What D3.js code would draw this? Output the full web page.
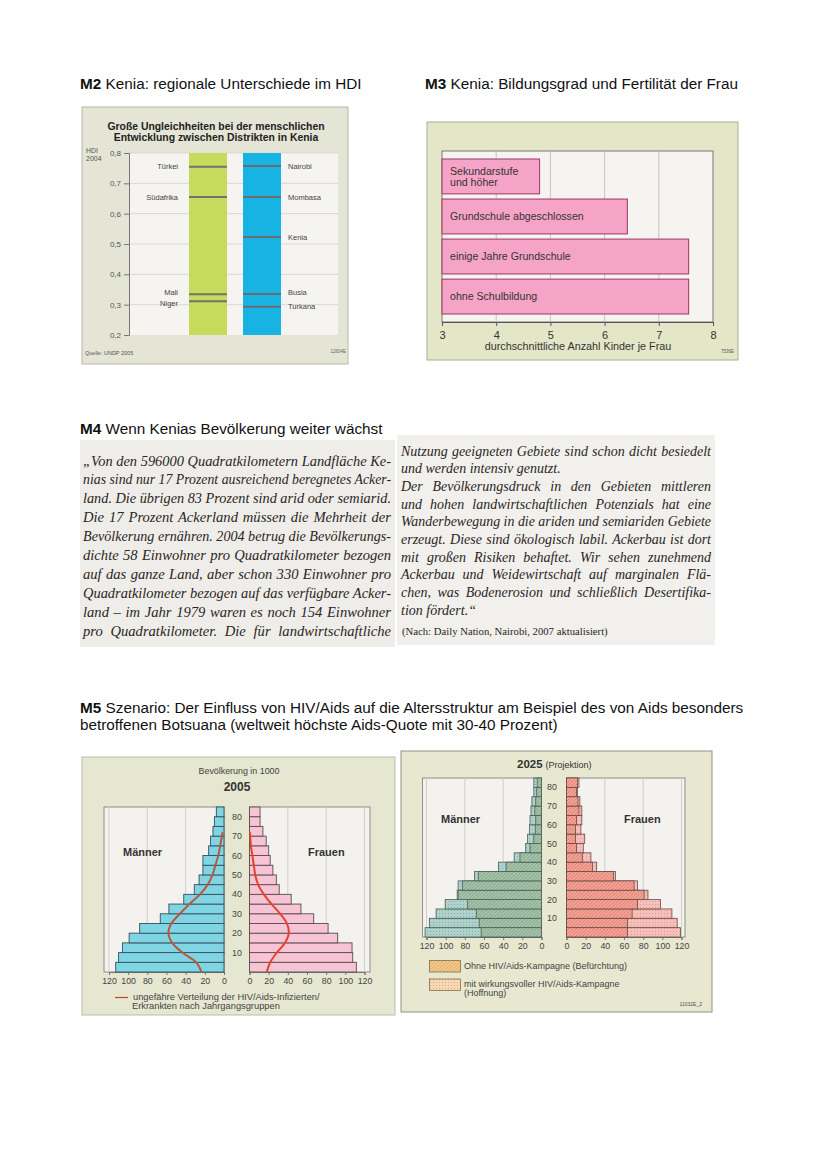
<!DOCTYPE html>
<html><head><meta charset="utf-8">
<script src="https://cdn.jsdelivr.net/npm/d3@7"></script>
<style>body{margin:0;background:#fff}svg{display:block}</style>
</head><body>
<svg id="c" width="828" height="1171"></svg>
<script>
// ---------------- DATA ----------------
// M2 – HDI 2004
const hdiTicks = [0.2, 0.3, 0.4, 0.5, 0.6, 0.7, 0.8];
const hdiCountryNames = ["Türkei", "Südafrika", "Mali", "Niger"];
const hdiCountryValues = [0.755, 0.655, 0.334, 0.311];
const hdiDistrictNames = ["Nairobi", "Mombasa", "Kenia", "Busia", "Turkana"];
const hdiDistrictValues = [0.757, 0.655, 0.523, 0.335, 0.293];

// M3 – education vs fertility
const eduCategories = [["Sekundarstufe", "und höher"], ["Grundschule abgeschlossen"], ["einige Jahre Grundschule"], ["ohne Schulbildung"]];
const eduValues = [4.8, 6.42, 7.55, 7.55];
const eduTicks = [3, 4, 5, 6, 7, 8];

// M4 – text lines (second item: 1 = justified)
const m4Left = [
  ["„Von den 596000 Quadratkilometern Landfläche Ke-", 1],
  ["nias sind nur 17 Prozent ausreichend beregnetes Acker-", 1],
  ["land. Die übrigen 83 Prozent sind arid oder semiarid.", 1],
  ["Die 17 Prozent Ackerland müssen die Mehrheit der", 1],
  ["Bevölkerung ernähren. 2004 betrug die Bevölkerungs-", 1],
  ["dichte 58 Einwohner pro Quadratkilometer bezogen", 1],
  ["auf das ganze Land, aber schon 330 Einwohner pro", 1],
  ["Quadratkilometer bezogen auf das verfügbare Acker-", 1],
  ["land – im Jahr 1979 waren es noch 154 Einwohner", 1],
  ["pro Quadratkilometer. Die für landwirtschaftliche", 1]
];
const m4Right = [
  ["Nutzung geeigneten Gebiete sind schon dicht besiedelt", 1],
  ["und werden intensiv genutzt.", 0],
  ["Der Bevölkerungsdruck in den Gebieten mittleren", 1],
  ["und hohen landwirtschaftlichen Potenzials hat eine", 1],
  ["Wanderbewegung in die ariden und semiariden Gebiete", 1],
  ["erzeugt. Diese sind ökologisch labil. Ackerbau ist dort", 1],
  ["mit großen Risiken behaftet. Wir sehen zunehmend", 1],
  ["Ackerbau und Weidewirtschaft auf marginalen Flä-", 1],
  ["chen, was Bodenerosion und schließlich Desertifika-", 1],
  ["tion fördert.“", 0]
];
const m4Source = "(Nach: Daily Nation, Nairobi, 2007 aktualisiert)";

// M5 – population pyramids (in 1000), age groups from 0–4 up to 80+
const ageGroups = ["0–4","5–9","10–14","15–19","20–24","25–29","30–34","35–39","40–44","45–49","50–54","55–59","60–64","65–69","70–74","75–79","80+"];
const ageTicks = [10, 20, 30, 40, 50, 60, 70, 80];
const popTicks = [0, 20, 40, 60, 80, 100, 120];
const men2005 = [113, 110, 106, 99, 88, 66.5, 57.5, 42, 31, 26, 22, 22, 16, 14, 11.5, 10, 8];
const women2005 = [111.5, 107.7, 107, 92, 82, 67, 53.7, 43.5, 31, 28, 24.4, 21.6, 20, 17.4, 14, 11, 11];
const hivAges = [0, 5, 10, 15, 20, 25, 30, 35, 40, 45, 50, 55, 60, 65, 72];
const hivMen = [23.5, 29, 43.5, 54, 58, 55, 46, 36, 25, 17, 12, 9, 6, 4, 1.5];
const hivWomen = [18, 21.6, 28.5, 37, 41, 39, 32, 23, 15, 9, 6, 4.5, 3, 1.5, 0.5];
// 2025 projection: without campaign (Befürchtung) and with campaign (Hoffnung)
const men2025Fear = [63, 65, 68, 77, 87, 82.5, 66, 37, 22.5, 12, 8, 6.5, 6, 7, 6, 5, 4.5];
const men2025Hope = [121.5, 117, 110, 100.5, 88, 87, 70, 45, 28.5, 16.5, 14.5, 12.5, 12, 11, 10, 8, 8];
const women2025Fear = [63.5, 63.5, 68.5, 74, 81, 70.5, 49, 27, 16.5, 10.5, 9.5, 9.5, 10.5, 13, 12, 10.5, 11.5];
const women2025Hope = [119, 115.5, 110, 98, 85, 74, 51, 31.5, 25.5, 17.5, 19, 15, 16, 16, 14, 11.5, 13];

// ---------------- DRAWING ----------------
const SANS = "'Liberation Sans', Arial, Helvetica, sans-serif";
const SERIF = "'Liberation Serif', 'Times New Roman', serif";
const svg = d3.select("#c").attr("font-family", SANS);
const defs = svg.append("defs");

function heading(x, y, bold, rest) {
  const t = svg.append("text").attr("x", x).attr("y", y).attr("font-size", 15.3).attr("fill", "#111");
  if (bold) t.append("tspan").attr("font-weight", "bold").text(bold);
  t.append("tspan").attr("dx", bold ? 4.3 : 0).text(rest);
}
heading(80, 88.5, "M2", "Kenia: regionale Unterschiede im HDI");
heading(425, 88.5, "M3", "Kenia: Bildungsgrad und Fertilität der Frau");
heading(80, 433.5, "M4", "Wenn Kenias Bevölkerung weiter wächst");
heading(80, 712.5, "M5", "Szenario: Der Einfluss von HIV/Aids auf die Altersstruktur am Beispiel des von Aids besonders");
heading(80, 729.5, null, "betroffenen Botsuana (weltweit höchste Aids-Quote mit 30-40 Prozent)");

// ===== M2 =====
{
  const g = svg.append("g");
  g.append("rect").attr("x", 82).attr("y", 107).attr("width", 266).attr("height", 257)
    .attr("fill", "#e4e5d5").attr("stroke", "#b8b8aa");
  ["Große Ungleichheiten bei der menschlichen", "Entwicklung zwischen Distrikten in Kenia"].forEach((s, i) =>
    g.append("text").attr("x", 216).attr("y", 129.5 + i * 11).attr("text-anchor", "middle")
      .attr("font-weight", "bold").attr("font-size", 10.4).attr("fill", "#222").text(s));
  const y = d3.scaleLinear().domain([0.2, 0.8]).range([335, 153]);
  const x0 = 129, x1 = 338;
  g.append("rect").attr("x", x0).attr("y", y(0.8)).attr("width", x1 - x0).attr("height", y(0.2) - y(0.8)).attr("fill", "#f5f4f0");
  g.selectAll(".grid").data(hdiTicks.slice(1)).join("line")
    .attr("x1", x0).attr("x2", x1).attr("y1", d => y(d)).attr("y2", d => y(d))
    .attr("stroke", "#d9d8d2").attr("stroke-width", 1);
  g.append("rect").attr("x", 189).attr("y", y(0.8)).attr("width", 38).attr("height", y(0.2) - y(0.8)).attr("fill", "#c6db5c");
  g.append("rect").attr("x", 243).attr("y", y(0.8)).attr("width", 38).attr("height", y(0.2) - y(0.8)).attr("fill", "#16b3e3");
  g.selectAll(".cl").data(hdiCountryValues).join("line")
    .attr("x1", 189).attr("x2", 227).attr("y1", d => y(d)).attr("y2", d => y(d)).attr("stroke", "#727272").attr("stroke-width", 2);
  g.selectAll(".dl").data(hdiDistrictValues).join("line")
    .attr("x1", 243).attr("x2", 281).attr("y1", d => y(d)).attr("y2", d => y(d)).attr("stroke", "#6c6c6c").attr("stroke-width", 2);
  g.selectAll(".ct").data(hdiCountryNames).join("text")
    .attr("x", 178).attr("y", (d, i) => y(hdiCountryValues[i]) + (d === "Mali" ? -1.5 : d === "Niger" ? 2.5 : 0)).attr("dy", "0.35em")
    .attr("text-anchor", "end").attr("font-size", 7.5).attr("fill", "#444").text(d => d);
  g.selectAll(".dt").data(hdiDistrictNames).join("text")
    .attr("x", 288).attr("y", (d, i) => y(hdiDistrictValues[i]) + (d === "Busia" ? -1.5 : 0)).attr("dy", "0.35em")
    .attr("font-size", 7.5).attr("fill", "#444").text(d => d);
  const ax = g.append("g").attr("transform", `translate(${x0},0)`)
    .call(d3.axisLeft(y).tickValues(hdiTicks).tickSize(5).tickPadding(3).tickFormat(d => d3.format(".1f")(d).replace(".", ",")));
  ax.select(".domain").attr("stroke", "#777");
  ax.selectAll(".tick line").attr("stroke", "#777");
  ax.selectAll("text").attr("font-size", 8).attr("fill", "#555").attr("font-family", SANS);
  g.append("text").attr("x", 86).attr("y", 152.5).attr("font-size", 7).attr("fill", "#555").text("HDI");
  g.append("text").attr("x", 86).attr("y", 160.5).attr("font-size", 7).attr("fill", "#555").text("2004");
  g.append("text").attr("x", 85).attr("y", 355).attr("font-size", 5.5).attr("fill", "#555").text("Quelle: UNDP 2005");
  g.append("text").attr("x", 346).attr("y", 353).attr("text-anchor", "end").attr("font-size", 4.5).attr("fill", "#666").text("12604E");
}

// ===== M3 =====
{
  const g = svg.append("g");
  g.append("rect").attr("x", 427).attr("y", 122).attr("width", 311).attr("height", 238)
    .attr("fill", "#e3e7c7").attr("stroke", "#a9ab9a");
  const x = d3.scaleLinear().domain([3, 8]).range([442, 713]);
  const y = d3.scaleBand().domain(d3.range(eduCategories.length)).range([151, 322]).paddingInner(0.13).paddingOuter(0.2);
  g.append("rect").attr("x", 442).attr("y", 151).attr("width", 271).attr("height", 171).attr("fill", "#f5f4f1").attr("stroke", "#777");
  g.selectAll(".vg").data(eduTicks.slice(1, -1)).join("line")
    .attr("x1", d => x(d)).attr("x2", d => x(d)).attr("y1", 151).attr("y2", 322).attr("stroke", "#c4c4c0");
  g.selectAll(".bar").data(eduValues).join("rect")
    .attr("x", x(3)).attr("y", (d, i) => y(i)).attr("width", d => x(d) - x(3)).attr("height", y.bandwidth())
    .attr("fill", "#f5a4c7").attr("stroke", "#a8406f").attr("stroke-width", 1.1);
  eduCategories.forEach((lines, i) => {
    const cy = y(i) + y.bandwidth() / 2;
    lines.forEach((s, k) => g.append("text").attr("x", 450)
      .attr("y", cy + (k - (lines.length - 1) / 2) * 11).attr("dy", "0.35em")
      .attr("font-size", 10.6).attr("fill", "#333").text(s));
  });
  const ax = g.append("g").attr("transform", "translate(0,322)")
    .call(d3.axisBottom(x).tickValues(eduTicks).tickSize(4).tickPadding(5).tickFormat(d3.format("d")));
  ax.select(".domain").attr("stroke", "#555");
  ax.selectAll(".tick line").attr("stroke", "#555");
  ax.selectAll("text").attr("font-size", 11).attr("fill", "#333").attr("font-family", SANS);
  g.append("text").attr("x", 578).attr("y", 349.5).attr("text-anchor", "middle").attr("font-size", 10.8).attr("fill", "#333")
    .text("durchschnittliche Anzahl Kinder je Frau");
  g.append("text").attr("x", 734).attr("y", 353).attr("text-anchor", "end").attr("font-size", 4.5).attr("fill", "#555").text("7536E");
}

// ===== M4 =====
function justified(g, lines, xa, xb, y0, dy, size) {
  const avail = xb - xa;
  lines.forEach(([s, j], i) => {
    const t = g.append("text").attr("x", xa).attr("y", y0 + i * dy)
      .attr("font-family", SERIF).attr("font-style", "italic").attr("font-size", size).attr("fill", "#2a2622").text(s);
    if (j) {
      const w = t.node().getComputedTextLength();
      const n = (s.match(/ /g) || []).length;
      const extra = n > 0 ? (avail - w) / n : 0;
      if (extra >= 0) {
        t.style("word-spacing", extra + "px");
      } else {
        t.attr("textLength", avail).attr("lengthAdjust", "spacingAndGlyphs");
      }
    }
  });
}
{
  const g = svg.append("g");
  g.append("rect").attr("x", 80).attr("y", 440).attr("width", 315).attr("height", 207).attr("fill", "#efedea");
  g.append("rect").attr("x", 397).attr("y", 435).attr("width", 318).attr("height", 210).attr("fill", "#f1f0ed");
  justified(g, m4Left, 83, 391, 465.5, 18.9, 14.6);
  justified(g, m4Right, 401, 711, 455.5, 17.7, 14);
  g.append("text").attr("x", 402).attr("y", 635).attr("font-family", SERIF).attr("font-size", 10.7).attr("fill", "#2a2622").text(m4Source);
}

// ===== M5 patterns =====
function hatch(id, base, line) {
  const p = defs.append("pattern").attr("id", id).attr("patternUnits", "userSpaceOnUse").attr("width", 3.6).attr("height", 3.6);
  p.append("rect").attr("width", 3.6).attr("height", 3.6).attr("fill", base);
  p.append("path").attr("d", "M-1,1 L1,-1 M0,3.6 L3.6,0 M2.6,4.6 L4.6,2.6").attr("stroke", line).attr("stroke-width", 0.8);
}
function dots(id, base, dot) {
  const p = defs.append("pattern").attr("id", id).attr("patternUnits", "userSpaceOnUse").attr("width", 3).attr("height", 3);
  p.append("rect").attr("width", 3).attr("height", 3).attr("fill", base);
  p.append("rect").attr("x", 1).attr("y", 1).attr("width", 1).attr("height", 1).attr("fill", dot);
}
hatch("menFear", "#a6c4aa", "#78997f");
dots("menHope", "#afd3cc", "#87b2ac");
hatch("womenFear", "#f4a597", "#d96c60");
dots("womenHope", "#f6c0ba", "#e69b94");
hatch("legFear", "#f2cd92", "#d69a45");
dots("legHope", "#f5d8b4", "#dcaa72");

function pyramidFrame(g, c) {
  const xm = d3.scaleLinear().domain([0, 120]).range(c.men);
  const xw = d3.scaleLinear().domain([0, 120]).range(c.women);
  const y = d3.scaleLinear().domain([0, 85]).range(c.y);
  const h = y(0) - y(85);
  g.append("rect").attr("x", c.menLeft).attr("y", y(85)).attr("width", xm(0) - c.menLeft).attr("height", h)
    .attr("fill", "#f3f2ee").attr("stroke", "#8e8e88");
  g.append("rect").attr("x", xw(0)).attr("y", y(85)).attr("width", c.womenRight - xw(0)).attr("height", h)
    .attr("fill", "#f3f2ee").attr("stroke", "#8e8e88");
  [40, 80, 120].forEach(v => {
    g.append("line").attr("x1", xm(v)).attr("x2", xm(v)).attr("y1", y(85)).attr("y2", y(0)).attr("stroke", "#cfcfca");
    g.append("line").attr("x1", xw(v)).attr("x2", xw(v)).attr("y1", y(85)).attr("y2", y(0)).attr("stroke", "#cfcfca");
  });
  [xm, xw].forEach(sc => {
    const a = g.append("g").attr("transform", `translate(0,${y(0)})`)
      .call(d3.axisBottom(sc).tickValues(popTicks).tickSize(3).tickPadding(3));
    a.select(".domain").attr("stroke", "#777");
    a.selectAll(".tick line").attr("stroke", "#777");
    a.selectAll("text").attr("font-size", 8.8).attr("fill", "#444").attr("font-family", SANS);
  });
  g.selectAll(".age").data(ageTicks).join("text").attr("x", c.ageX).attr("y", d => y(d)).attr("dy", "0.35em")
    .attr("text-anchor", "middle").attr("font-size", 8.8).attr("fill", "#444").text(d => d);
  g.append("text").attr("x", c.menLabel[0]).attr("y", c.menLabel[1]).attr("font-weight", "bold").attr("font-size", 11).attr("fill", "#333").text("Männer");
  g.append("text").attr("x", c.womenLabel[0]).attr("y", c.womenLabel[1]).attr("font-weight", "bold").attr("font-size", 11).attr("fill", "#333").text("Frauen");
  return { xm, xw, y };
}

// ===== M5 left: 2005 =====
{
  const g = svg.append("g");
  g.append("rect").attr("x", 82).attr("y", 757).attr("width", 313).attr("height", 258).attr("fill", "#e6e7d0").attr("stroke", "#bcbcae");
  g.append("text").attr("x", 239).attr("y", 774).attr("text-anchor", "middle").attr("font-size", 8.9).attr("fill", "#444").text("Bevölkerung in 1000");
  g.append("text").attr("x", 237).attr("y", 791).attr("text-anchor", "middle").attr("font-weight", "bold").attr("font-size", 12).attr("fill", "#333").text("2005");
  const { xm, xw, y } = pyramidFrame(g, {
    men: [224, 109], women: [249.5, 364.5], y: [972, 807], menLeft: 104, womenRight: 370,
    ageX: 237, menLabel: [123, 856], womenLabel: [308, 856]
  });
  g.selectAll(".mb").data(men2005).join("rect")
    .attr("x", d => xm(d)).attr("y", (d, i) => y(i * 5 + 5)).attr("width", d => xm(0) - xm(d)).attr("height", (d, i) => y(i * 5) - y(i * 5 + 5))
    .attr("fill", "#80d5e4").attr("stroke", "#34505c").attr("stroke-width", 0.9);
  g.selectAll(".wb").data(women2005).join("rect")
    .attr("x", xw(0)).attr("y", (d, i) => y(i * 5 + 5)).attr("width", d => xw(d) - xw(0)).attr("height", (d, i) => y(i * 5) - y(i * 5 + 5))
    .attr("fill", "#f6c4d4").attr("stroke", "#5c4a52").attr("stroke-width", 0.9);
  const lm = d3.line().x(d => xm(d[1])).y(d => y(d[0])).curve(d3.curveCatmullRom);
  const lw = d3.line().x(d => xw(d[1])).y(d => y(d[0])).curve(d3.curveCatmullRom);
  g.append("path").attr("d", lm(hivAges.map((a, i) => [a, hivMen[i]]))).attr("fill", "none").attr("stroke", "#b9573e").attr("stroke-width", 2);
  g.append("path").attr("d", lw(hivAges.map((a, i) => [a, hivWomen[i]]))).attr("fill", "none").attr("stroke", "#e5432a").attr("stroke-width", 2);
  g.append("line").attr("x1", 115).attr("x2", 128).attr("y1", 997.5).attr("y2", 997.5).attr("stroke", "#c0442e").attr("stroke-width", 1.2);
  g.append("text").attr("x", 133).attr("y", 1000).attr("font-size", 9.3).attr("fill", "#444").text("ungefähre Verteilung der HIV/Aids-Infizierten/");
  g.append("text").attr("x", 132).attr("y", 1009).attr("font-size", 9.3).attr("fill", "#444").text("Erkrankten nach Jahrgangsgruppen");
}

// ===== M5 right: 2025 =====
{
  const g = svg.append("g");
  g.append("rect").attr("x", 401).attr("y", 751).attr("width", 311).attr("height", 261).attr("fill", "#e7e8cf").attr("stroke", "#8f8f88");
  const tt = g.append("text").attr("x", 517).attr("y", 767.5).attr("fill", "#333");
  tt.append("tspan").attr("font-weight", "bold").attr("font-size", 11.5).text("2025");
  tt.append("tspan").attr("dx", 3).attr("font-size", 9).text("(Projektion)");
  const { xm, xw, y } = pyramidFrame(g, {
    men: [541.5, 426.5], women: [566.5, 681.5], y: [937, 778], menLeft: 422.5, womenRight: 685,
    ageX: 552, menLabel: [441, 822.5], womenLabel: [624, 822.5]
  });
  const bh = (i) => y(i * 5) - y(i * 5 + 5);
  g.selectAll(".mh").data(men2025Hope).join("rect")
    .attr("x", d => xm(d)).attr("y", (d, i) => y(i * 5 + 5)).attr("width", d => xm(0) - xm(d)).attr("height", (d, i) => bh(i))
    .attr("fill", "url(#menHope)").attr("stroke", "#4d5e55").attr("stroke-width", 0.8);
  g.selectAll(".mf").data(men2025Fear).join("rect")
    .attr("x", d => xm(d)).attr("y", (d, i) => y(i * 5 + 5)).attr("width", d => xm(0) - xm(d)).attr("height", (d, i) => bh(i))
    .attr("fill", "url(#menFear)").attr("stroke", "#4d5e55").attr("stroke-width", 0.8);
  g.selectAll(".wh").data(women2025Hope).join("rect")
    .attr("x", xw(0)).attr("y", (d, i) => y(i * 5 + 5)).attr("width", d => xw(d) - xw(0)).attr("height", (d, i) => bh(i))
    .attr("fill", "url(#womenHope)").attr("stroke", "#6a4a46").attr("stroke-width", 0.8);
  g.selectAll(".wf").data(women2025Fear).join("rect")
    .attr("x", xw(0)).attr("y", (d, i) => y(i * 5 + 5)).attr("width", d => xw(d) - xw(0)).attr("height", (d, i) => bh(i))
    .attr("fill", "url(#womenFear)").attr("stroke", "#6a4a46").attr("stroke-width", 0.8);
  g.append("rect").attr("x", 429.5).attr("y", 960.5).attr("width", 31).attr("height", 11.5).attr("fill", "url(#legFear)").attr("stroke", "#8a6a45").attr("stroke-width", 0.8);
  g.append("rect").attr("x", 429.5).attr("y", 979).attr("width", 31).attr("height", 11.5).attr("fill", "url(#legHope)").attr("stroke", "#8a6a45").attr("stroke-width", 0.8);
  g.append("text").attr("x", 464).attr("y", 969).attr("font-size", 9).attr("fill", "#444").text("Ohne HIV/Aids-Kampagne (Befürchtung)");
  g.append("text").attr("x", 464).attr("y", 986.5).attr("font-size", 9).attr("fill", "#444").text("mit wirkungsvoller HIV/Aids-Kampagne");
  g.append("text").attr("x", 464).attr("y", 995.5).attr("font-size", 9).attr("fill", "#444").text("(Hoffnung)");
  g.append("text").attr("x", 702).attr("y", 1006).attr("text-anchor", "end").attr("font-size", 5).attr("fill", "#555").text("11032E_2");
}
</script>
</body></html>
